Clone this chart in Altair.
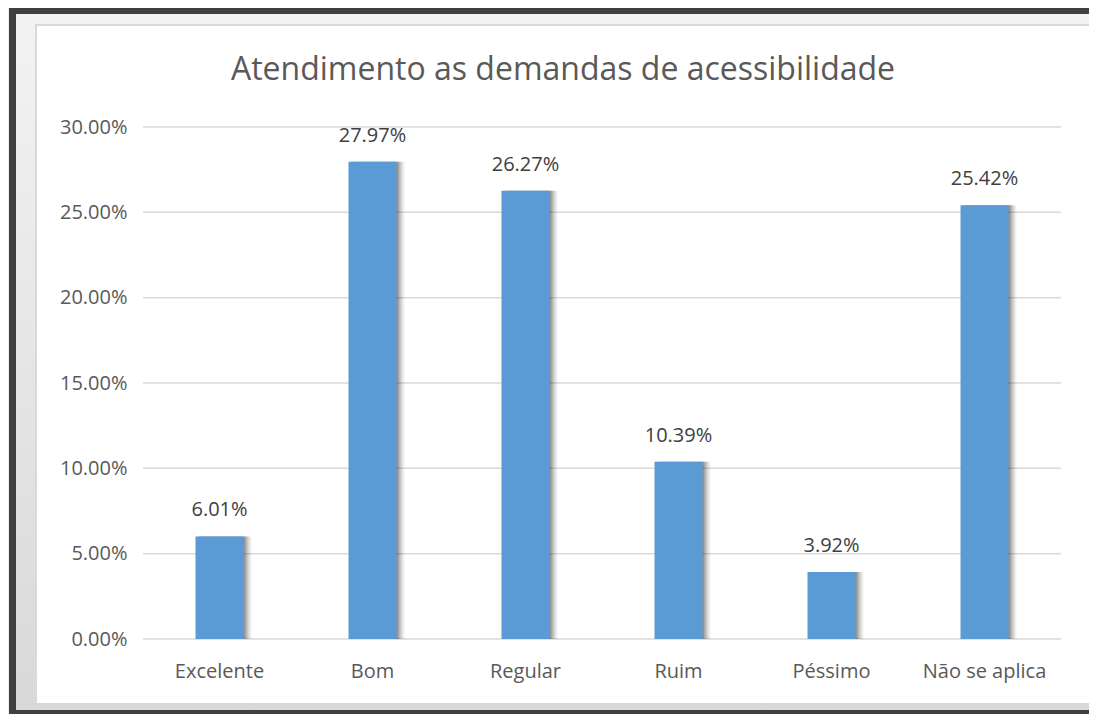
import altair as alt
import pandas as pd

categories = ["Excelente", "Bom", "Regular", "Ruim", "Péssimo", "Não se aplica"]
values = [0.0601, 0.2797, 0.2627, 0.1039, 0.0392, 0.2542]
y_ticks = [0.0, 0.05, 0.10, 0.15, 0.20, 0.25, 0.30]
title_text = "Atendimento as demandas de acessibilidade"

df = pd.DataFrame({"cat": categories, "val": values})
grid_df = pd.DataFrame({"val": y_ticks})

W, H = 918, 512
STEP = W / len(categories)
FONT = "Open Sans"
TXT = "#595959"

x_enc = alt.X(
    "cat:N", sort=categories,
    scale=alt.Scale(paddingInner=0, paddingOuter=0),
    axis=alt.Axis(title=None, labelAngle=0, domain=False, ticks=False, grid=False,
                  labelFont=FONT, labelFontSize=20, labelColor=TXT, labelPadding=22,
                  zindex=2),
)
y_enc = alt.Y(
    "val:Q", scale=alt.Scale(domain=[0, 0.3], nice=False),
    axis=alt.Axis(title=None, format=".2%", values=y_ticks, domain=False, ticks=False,
                  grid=False, labelFont=FONT, labelFontSize=20, labelColor=TXT,
                  labelPadding=16, zindex=2),
)

one = alt.Data(values=[{"k": 1}])

frame_fill = alt.Chart(one).mark_rect(
    fill=alt.LinearGradient(gradient="linear", x1=0, x2=0, y1=0, y2=1,
                            stops=[alt.GradientStop(color="#f3f3f3", offset=0),
                                   alt.GradientStop(color="#d8d8d8", offset=1)]),
).encode(x=alt.value(-134), x2=alt.value(960), y=alt.value(-121), y2=alt.value(600))

DARK = "#404040"
frame_top = alt.Chart(one).mark_rect(fill=DARK).encode(
    x=alt.value(-134), x2=alt.value(960), y=alt.value(-121), y2=alt.value(-113))
frame_left = alt.Chart(one).mark_rect(fill=DARK).encode(
    x=alt.value(-134), x2=alt.value(-127), y=alt.value(-121), y2=alt.value(600))
frame_bottom = alt.Chart(one).mark_rect(fill=DARK).encode(
    x=alt.value(-134), x2=alt.value(960), y=alt.value(583), y2=alt.value(600))

panel = alt.Chart(one).mark_rect(fill="white", stroke="#d9d9d9", strokeWidth=2).encode(
    x=alt.value(-107), x2=alt.value(947), y=alt.value(-102), y2=alt.value(577)
)

title = alt.Chart(one).mark_text(
    text=title_text, font=FONT, fontSize=32, color=TXT, align="center",
    baseline="alphabetic",
).encode(x=alt.value(420), y=alt.value(-47))

grid = alt.Chart(grid_df).mark_rule(color="#d9d9d9", strokeWidth=1.5).encode(
    y=y_enc, x=alt.value(0), x2=alt.value(W)
)

base = alt.Chart(df)
shadows = [
    base.mark_bar(width=48, color="#000000", opacity=op).encode(
        x=x_enc, y=y_enc, xOffset=alt.value(STEP / 2 + off))
    for off, op in [(8, 0.06), (6, 0.1), (4, 0.14), (2, 0.2)]
]
bars = base.mark_bar(width=48, color="#5B9BD5").encode(x=x_enc, y=y_enc)
labels = base.mark_text(font=FONT, fontSize=20, color="#404040", dy=-20,
                        baseline="alphabetic").encode(
    x=x_enc, y=y_enc, text=alt.Text("val:Q", format=".2%"))

chart = alt.layer(frame_fill, frame_top, frame_left, frame_bottom, panel, title, grid,
                  *shadows, bars, labels).properties(
    width=W, height=H,
    autosize=alt.AutoSizeParams(type="none"),
    padding={"left": 135, "top": 119, "right": 28, "bottom": 75},
    background="#eeeeee",
).configure_view(stroke=None)

chart.save("out.html", embed_options={"renderer": "svg", "actions": False})
